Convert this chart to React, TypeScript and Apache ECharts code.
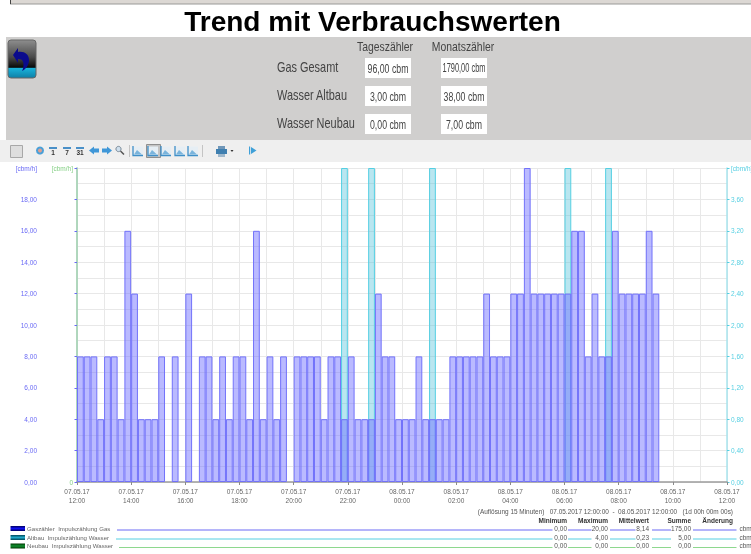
import React, { useEffect, useRef } from "react";
import * as echarts from "echarts";

const title = "Trend mit Verbrauchswerten";
const counterHeads = ["Tageszähler", "Monatszähler"];
const counterNames = ["Gas Gesamt", "Wasser Altbau", "Wasser Neubau"];
const dayCounters = ["96,00 cbm", "3,00 cbm", "0,00 cbm"];
const monthCounters = ["1790,00 cbm", "38,00 cbm", "7,00 cbm"];

const xTickLabels = [
  "07.05.17\n12:00", "07.05.17\n14:00", "07.05.17\n16:00", "07.05.17\n18:00",
  "07.05.17\n20:00", "07.05.17\n22:00", "08.05.17\n00:00", "08.05.17\n02:00",
  "08.05.17\n04:00", "08.05.17\n06:00", "08.05.17\n08:00", "08.05.17\n10:00",
  "08.05.17\n12:00",
];
// one value per 15 minutes, from 07.05.17 12:00
const gas = [
  8, 8, 8, 4, 8, 8, 4, 16, 12, 4, 4, 4, 8, 0, 8, 0, 12, 0, 8, 8, 4, 8, 4, 8,
  8, 4, 16, 4, 8, 4, 8, 0, 8, 8, 8, 8, 4, 8, 8, 4, 8, 4, 4, 4, 12, 8, 8, 4,
  4, 4, 8, 4, 4, 4, 4, 8, 8, 8, 8, 8, 12, 8, 8, 8, 12, 12, 20, 12, 12, 12, 12, 12,
  12, 16, 16, 8, 12, 8, 8, 16, 12, 12, 12, 12, 16, 12,
];
const altbauSlots = [39, 43, 52, 72, 78];
const altbauValue = 4;
const neubau: number[] = [];

const legendNames = ["Gaszähler  Impulszählung Gas", "Altbau  Impulszählung Wasser", "Neubau  Impulszählung Wasser"];
const statHeads = ["Minimum", "Maximum", "Mittelwert", "Summe", "Änderung"];
const statGas = ["0,00", "20,00", "8,14", "175,00"];
const statAltbau = ["0,00", "4,00", "0,23", "5,00"];
const statNeubau = ["0,00", "0,00", "0,00", "0,00"];
const statUnit = "cbm";
const rangeText = "(Auflösung 15 Minuten)   07.05.2017 12:00:00  -  08.05.2017 12:00:00   (1d 00h 00m 00s)";

const BLUE = "#6a6af5";
const CYAN = "#55cfe2";
const GREEN = "#8ed88e";
const SANS = "Liberation Sans";

echarts.graphic.registerShape(
  "backArrow",
  echarts.graphic.extendPath(
    "M13 55 L18 48 L18 52 C24 51 29 54 29 60 C29 65 26 69 22 71 C24 67 24 62 22 60 C21 59 19 59 18 59 L18 63 Z",
    {}
  )
);

const txt = (x: number, y: number, text: string, o: any = {}) => ({
  type: "text", x, y, silent: true, scaleX: o.scaleX || 1,
  style: {
    text, fontFamily: SANS, fontSize: o.size || 6.5, fontWeight: o.weight || "normal",
    fill: o.fill || "#555", align: o.align || "left", verticalAlign: "middle",
  },
});
const box = (x: number, y: number, w: number, h: number, fill: any, o: any = {}) => ({
  type: "rect", x, y, shape: { x: 0, y: 0, width: w, height: h, r: o.r || 0 }, silent: true,
  style: { fill, stroke: o.stroke, lineWidth: o.lw || 1 },
});
const seg = (x1: number, x2: number, y: number, stroke: string, lineWidth = 1) => ({
  type: "line", silent: true, shape: { x1, y1: y, x2, y2: y }, style: { stroke, lineWidth },
});
const poly = (points: number[][], fill: string) => ({
  type: "polygon", silent: true, shape: { points }, style: { fill },
});

function buildGraphics() {
  const g: any[] = [];
  // page header
  g.push(box(10, 0, 741, 4, "#dcd8d4"));
  g.push(seg(10, 751, 4, "#9a9a98"));
  g.push(box(10, 0, 1, 4, "#444"));
  g.push(txt(372.5, 21, title, { size: 28, weight: "bold", fill: "#000", align: "center" }));
  // counter panel
  g.push(box(6, 37, 745, 103, "#d0cfce"));
  g.push(box(8, 40, 28, 38, new echarts.graphic.LinearGradient(0, 0, 0, 1, [
    { offset: 0, color: "#8e8e8e" }, { offset: 0.45, color: "#4a4a4a" }, { offset: 0.72, color: "#0a0a0a" },
    { offset: 0.74, color: "#19b4dc" }, { offset: 1, color: "#0e7fa6" },
  ]), { r: 3, stroke: "#666" }));
  g.push({ type: "backArrow", x: 0, y: 0, silent: true, style: { fill: "#0a0a8c" } });

  const narrowHead = { size: 13, fill: "#444", align: "center", scaleX: 0.8 };
  g.push(txt(385, 46, counterHeads[0], narrowHead));
  g.push(txt(463, 46, counterHeads[1], narrowHead));
  counterNames.forEach((name, i) => {
    const y = 58 + i * 28;
    g.push(txt(277, y + 9.5, name, { size: 14, fill: "#444", scaleX: 0.78 }));
    g.push(box(365, y, 46, 20, "#fff"));
    g.push(box(441, y, 46, 20, "#fff"));
    g.push(txt(388, y + 10, dayCounters[i], { size: 12, fill: "#444", align: "center", scaleX: 0.73 }));
    g.push(txt(464, y + 10, monthCounters[i], {
      size: 12, fill: "#444", align: "center", scaleX: monthCounters[i].length > 10 ? 0.62 : 0.73,
    }));
  });

  // toolbar
  g.push(box(0, 140, 751, 22, "#efefef"));
  g.push(box(10.5, 145.5, 12, 12, "#dedede", { stroke: "#a8a8a8" }));
  g.push({ type: "circle", silent: true, shape: { cx: 40, cy: 150.5, r: 4 }, style: { fill: "#4aa0d8" } });
  g.push({ type: "circle", silent: true, shape: { cx: 40, cy: 150.5, r: 2 }, style: { fill: "#e0a090" } });
  [[53, "1"], [67, "7"], [80, "31"]].forEach(([x, t]: any) => {
    g.push(box(x - 4, 147, 8, 2, "#4a90c8"));
    g.push(txt(x, 152, t, { size: 6.5, weight: "bold", fill: "#333", align: "center" }));
  });
  g.push(poly([[89, 150.5], [94, 146.5], [94, 148.5], [99, 148.5], [99, 152.5], [94, 152.5], [94, 154.5]], "#3f97d8"));
  g.push(poly([[112, 150.5], [107, 146.5], [107, 148.5], [102, 148.5], [102, 152.5], [107, 152.5], [107, 154.5]], "#3f97d8"));
  g.push({ type: "circle", silent: true, shape: { cx: 118.5, cy: 149, r: 2.6 }, style: { fill: "#cfe0ee", stroke: "#7a8a98", lineWidth: 1 } });
  g.push({ type: "line", silent: true, shape: { x1: 120.5, y1: 151, x2: 124, y2: 154.5 }, style: { stroke: "#555", lineWidth: 1.5 } });
  g.push({ type: "line", silent: true, shape: { x1: 129.5, y1: 145, x2: 129.5, y2: 157 }, style: { stroke: "#c4c4c4", lineWidth: 1 } });
  g.push(box(146.5, 144.5, 14, 13, "#c4c4c4", { stroke: "#8f8f8f" }));
  [138, 153, 166, 180, 193].forEach((x) => {
    g.push(box(x - 5, 146.5, 10, 9, "#e6eef4"));
    g.push({ type: "polyline", silent: true, shape: { points: [[x - 5, 146], [x - 5, 155.5], [x + 5, 155.5]] }, style: { stroke: "#3f8fc8", fill: "none", lineWidth: 1.3 } });
    g.push(poly([[x - 4, 154.5], [x - 1, 150], [x + 4, 154.5]], "#7ab4dc"));
  });
  g.push({ type: "line", silent: true, shape: { x1: 202.5, y1: 145, x2: 202.5, y2: 157 }, style: { stroke: "#c4c4c4", lineWidth: 1 } });
  g.push(box(218, 146, 7, 3, "#6f96b8"));
  g.push(box(216, 149, 11, 5, "#3f7fb0"));
  g.push(box(218, 154, 7, 3, "#9fb8cc"));
  g.push(poly([[230.5, 150], [233.5, 150], [232, 152]], "#333"));
  g.push(box(249, 146.5, 1.2, 8, "#3fa0d8"));
  g.push(poly([[251, 147], [256.5, 150.5], [251, 154]], "#3fa0d8"));

  // footer
  g.push(txt(733, 511.5, rangeText, { align: "right", size: 6.45 }));
  const headRight = [567, 608, 649, 691, 733];
  statHeads.forEach((h, i) => g.push(txt(headRight[i], 520, h, { align: "right", weight: "bold", size: 6.5, fill: "#333" })));
  const rows = [
    { vals: statGas, color: BLUE, start: 117, y: 530 },
    { vals: statAltbau, color: CYAN, start: 116, y: 539 },
    { vals: statNeubau, color: GREEN, start: 119, y: 547.5 },
  ];
  const swatch = [
    ["#000060", "#1010f0"], ["#004858", "#20a8c8"], ["#003800", "#109030"],
  ];
  rows.forEach((r, i) => {
    const ty = r.y - 2;
    g.push(box(10.5, ty - 2, 14.5, 5, new echarts.graphic.LinearGradient(0, 0, 0, 1, [
      { offset: 0, color: swatch[i][0] }, { offset: 0.5, color: swatch[i][1] }, { offset: 1, color: swatch[i][0] },
    ])));
    g.push(txt(27, ty, legendNames[i], { size: 6.1, fill: "#666" }));
    g.push(seg(r.start, 552.5, r.y, r.color));
    g.push(seg(568, 591.5, r.y, r.color));
    g.push(seg(610, 635.5, r.y, r.color));
    g.push(seg(652, 671, r.y, r.color));
    g.push(seg(693, 736.5, r.y, r.color));
    r.vals.forEach((v, k) => g.push(txt(headRight[k], ty, v, { align: "right", size: 6.5 })));
    g.push(txt(739.5, ty, statUnit, { size: 6.5 }));
  });
  return g;
}

const comma = (v: number) => v.toFixed(2).replace(".", ",");
const slotBars = (values: number[]) =>
  values.map((v, i) => [i + 0.5, v]).filter((p) => p[1] > 0);
const altbau = altbauSlots.map((s) => [s + 0.5, altbauValue]);

export default function App() {
  const ref = useRef<HTMLDivElement>(null);
  useEffect(() => {
    document.body.style.margin = "0";
    const chart = echarts.init(ref.current!, undefined, { renderer: "svg" });
    const barBase = { type: "bar", barWidth: 6.77, barGap: "-100%", xAxisIndex: 0, silent: true };
    chart.setOption({
      animation: false,
      backgroundColor: "#fff",
      textStyle: { fontFamily: SANS },
      grid: { left: 77, right: 24, top: 168, bottom: 72, outerBoundsMode: "none", containLabel: false },
      xAxis: {
        type: "value", min: 0, max: 96, interval: 8,
        axisLine: { onZero: false, lineStyle: { color: "#9c9c9c", width: 1.5 } },
        axisTick: { show: true, length: 3, lineStyle: { color: "#8a8a8a" } },
        minorTick: { show: false, splitNumber: 2 },
        splitLine: { show: true, lineStyle: { color: "#e8e8e8" } },
        minorSplitLine: { show: true, lineStyle: { color: "#e8e8e8" } },
        axisLabel: {
          color: "#666", fontSize: 6.5, lineHeight: 9, margin: 5, showMinLabel: true, showMaxLabel: true,
          hideOverlap: false,
          formatter: (v: number) => xTickLabels[Math.round(v / 8)] ?? "",
        },
      },
      yAxis: [
        {
          type: "value", position: "left", offset: 36, min: 0, max: 20, interval: 2,
          axisLine: { show: true, lineStyle: { color: "#b4b4fa", width: 1.5 } },
          axisTick: { show: true, length: 2.5, lineStyle: { color: BLUE } },
          minorTick: { show: false, splitNumber: 2 },
          splitLine: { show: true, lineStyle: { color: "#e8e8e8" } },
          minorSplitLine: { show: true, lineStyle: { color: "#e8e8e8" } },
          axisLabel: {
            color: BLUE, fontSize: 6.5, margin: 4, showMaxLabel: true,
            formatter: (v: number) => (v === 20 ? "[cbm/h]" : comma(v)),
          },
        },
        {
          type: "value", position: "left", offset: 0, min: 0, max: 20, interval: 20,
          axisLine: { show: true, lineStyle: { color: "#a8dca8", width: 1.5 } },
          axisTick: { show: false },
          splitLine: { show: false },
          axisLabel: {
            color: "#86d086", fontSize: 6.5, margin: 4, showMinLabel: true, showMaxLabel: true,
            formatter: (v: number) => (v === 20 ? "[cbm/h]" : "0"),
          },
        },
        {
          type: "value", position: "right", offset: 0, min: 0, max: 4, interval: 0.4,
          axisLine: { show: true, lineStyle: { color: "#a8e4ee", width: 1.5 } },
          axisTick: { show: true, length: 2.5, lineStyle: { color: CYAN } },
          splitLine: { show: false },
          axisLabel: {
            color: CYAN, fontSize: 6.5, margin: 4, showMaxLabel: true,
            formatter: (v: number) => (Math.abs(v - 4) < 1e-6 ? "[cbm/h]" : comma(v)),
          },
        },
      ],
      series: [
        { ...barBase, name: "Neubau", yAxisIndex: 1, data: slotBars(neubau), z: 2,
          itemStyle: { color: "rgba(100,200,100,0.45)", borderColor: GREEN, borderWidth: 1 } },
        { ...barBase, name: "Altbau", yAxisIndex: 2, data: altbau, z: 3,
          itemStyle: { color: "rgba(70,190,215,0.38)", borderColor: CYAN, borderWidth: 1 } },
        { ...barBase, name: "Gaszähler", yAxisIndex: 0, data: slotBars(gas), z: 4,
          itemStyle: { color: "rgba(110,110,255,0.48)", borderColor: "#7272fa", borderWidth: 1 } },
      ],
      graphic: buildGraphics(),
    });
    return () => chart.dispose();
  }, []);
  return (
    <div
      ref={ref}
      style={{ position: "absolute", left: 0, top: 0, width: 751, height: 554, filter: "blur(0.45px)" }}
    />
  );
}
